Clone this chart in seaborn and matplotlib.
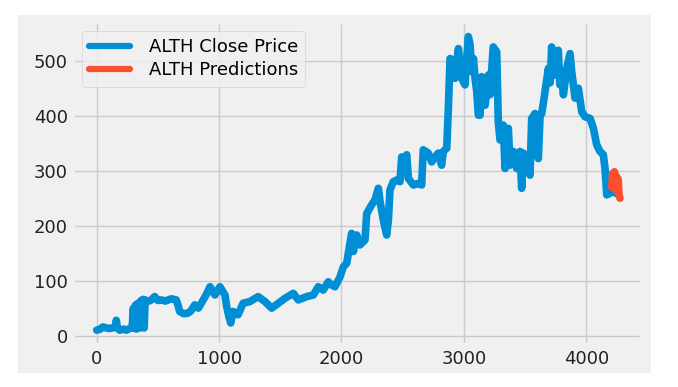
import matplotlib.pyplot as plt
import seaborn as sns
from matplotlib.patches import Rectangle

plt.style.use("fivethirtyeight")
plt.rcParams["font.family"] = ["DejaVu Sans"]

# Close price (trading day index, price)
days = [
    0, 30, 51, 80, 106, 130, 150, 160, 170, 188, 220, 242, 269, 290,
    300, 308, 316, 324, 332, 340, 348, 356, 364, 372, 380, 388, 395,
    410, 440, 474, 500, 528, 560, 610, 650, 665, 678, 710, 746, 770,
    801, 830, 855, 896, 926, 966, 1007, 1048, 1062, 1080, 1095, 1114,
    1155, 1196, 1252, 1319, 1375, 1430, 1484, 1539, 1606, 1647, 1716,
    1770, 1811, 1851, 1892, 1920, 1947, 1988, 2015, 2043, 2056, 2083,
    2097, 2124, 2151, 2192, 2206, 2247, 2274, 2301, 2315, 2342, 2369,
    2383, 2396, 2423, 2451, 2478, 2492, 2519, 2533, 2546, 2587, 2628,
    2655, 2668, 2709, 2737, 2764, 2791, 2818, 2832, 2860, 2873, 2887,
    2914, 2928, 2955, 2982, 3009, 3036, 3050, 3064, 3078, 3091, 3105,
    3118, 3132, 3145, 3173, 3200, 3213, 3240, 3268, 3281, 3295, 3322,
    3336, 3363, 3377, 3404, 3431, 3458, 3472, 3486, 3513, 3540, 3554,
    3581, 3608, 3622, 3636, 3663, 3690, 3705, 3717, 3730, 3745, 3771,
    3785, 3800, 3813, 3840, 3867, 3881, 3908, 3935, 3963, 3990, 4031,
    4058, 4085, 4112, 4139, 4153, 4167, 4194, 4220, 4250,
]
close = [
    10, 12, 16, 14, 13, 14, 15, 28, 14, 10, 12, 10, 13, 14,
    50, 14, 55, 12, 58, 16, 60, 14, 64, 20, 66, 14, 65,
    62, 64, 71, 64, 65, 63, 67, 65, 55, 44, 40, 41, 45,
    56, 50, 59, 75, 89, 74, 89, 74, 53, 35, 23, 44,
    38, 59, 62, 71, 62, 50, 59, 68, 77, 65, 71,
    74, 89, 83, 98, 92, 89, 107, 125, 132, 150, 186,
    153, 183, 165, 174, 222, 238, 247, 268, 244, 210, 183,
    210, 265, 280, 283, 280, 325, 319, 329, 286, 274, 277,
    274, 338, 332, 316, 325, 332, 310, 335, 341, 413, 504,
    501, 468, 522, 468, 456, 544, 530, 480, 504, 468, 444,
    401, 401, 471, 419, 474, 438, 525, 516, 389, 356, 383,
    304, 377, 310, 335, 304, 335, 268, 332, 316, 292, 395,
    404, 322, 400, 404, 444, 486, 460, 525, 480, 474, 519,
    456, 470, 438, 486, 513, 480, 432, 450, 407, 398, 395,
    377, 347, 335, 329, 304, 256, 259, 262, 258,
]

# Model predictions on the validation window
pred_days = [4208, 4215, 4222, 4230, 4238, 4245, 4252, 4260, 4268, 4275]
predictions = [270, 295, 280, 298, 265, 290, 275, 285, 255, 250]


def main():
    fig = plt.figure(figsize=(6.78, 3.87), dpi=100, facecolor="white")
    # grey figure panel with a white border, as in the saved original
    fig.patches.append(Rectangle(
        (0.0265, 0.0362), 0.9336, 0.925, transform=fig.transFigure,
        facecolor="#f0f0f0", edgecolor="none", zorder=-1
    ))
    ax = fig.add_axes([0.1072, 0.1085, 0.8397, 0.8355])

    line_kws = dict(linewidth=5.5, solid_capstyle="round", solid_joinstyle="round")
    sns.lineplot(x=days, y=close, ax=ax, color="#008fd5", sort=False,
                 estimator=None, label="ALTH Close Price", **line_kws)
    sns.lineplot(x=pred_days, y=predictions, ax=ax, color="#fc4f30", sort=False,
                 estimator=None, label="ALTH Predictions", **line_kws)

    ax.set_xlim(-196, 4455)
    ax.set_ylim(-17, 571)
    ax.set_xticks([0, 1000, 2000, 3000, 4000])
    ax.set_yticks([0, 100, 200, 300, 400, 500])
    ax.tick_params(labelsize=13, colors="#222222")
    ax.set_xlabel(None)
    ax.set_ylabel(None)

    leg = ax.legend(loc="upper left", fontsize=13, handlelength=2.3,
                    labelspacing=0.3, handletextpad=1.0)
    for h in leg.get_lines():
        h.set_linewidth(4.5)

    fig.savefig("out.png", dpi=100, facecolor="white")


if __name__ == "__main__":
    main()
